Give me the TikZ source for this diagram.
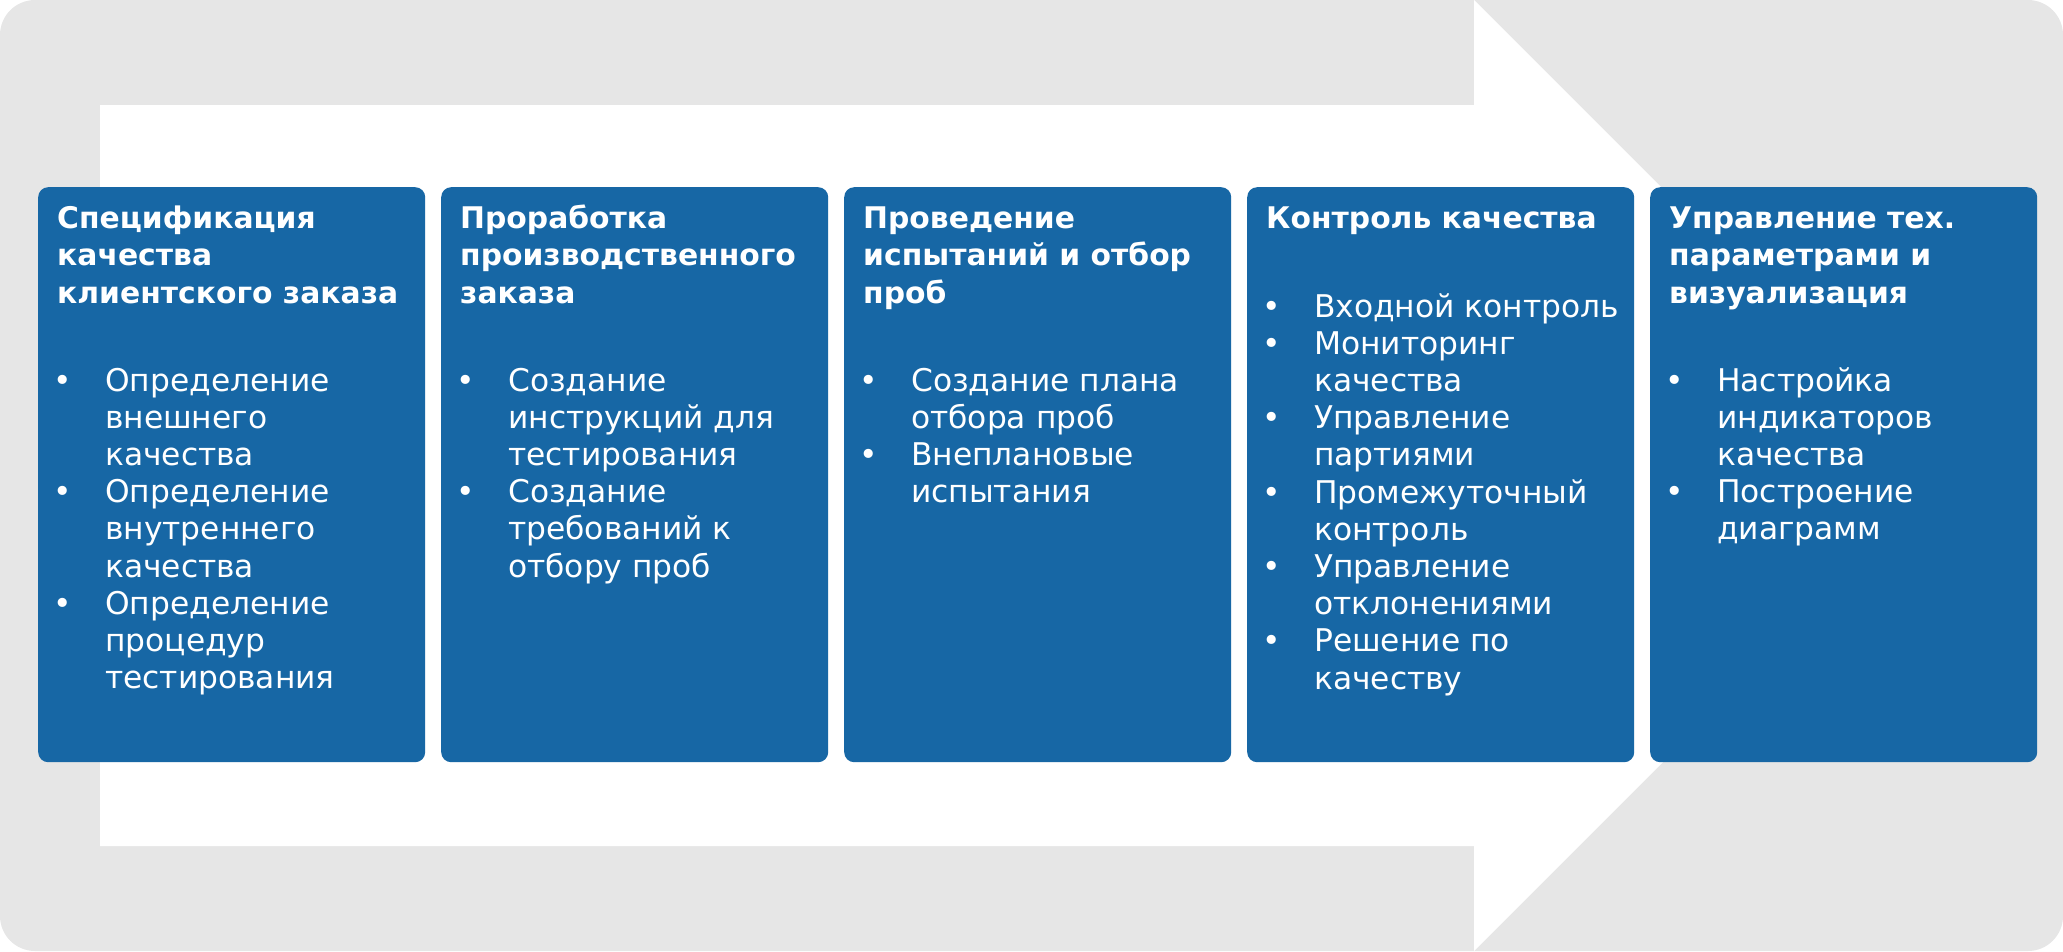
\documentclass[tikz,border=0pt]{standalone}
\usepackage{fontspec}
\setmainfont{DejaVu Sans}
\definecolor{bggray}{HTML}{E6E6E6}
\definecolor{qblue}{HTML}{1767A5}
\newcommand\qtitle[1]{\parbox[t]{375pt}{\fontsize{29.8}{37.5}\selectfont\bfseries\raggedright #1}}
\newcommand\qlist[1]{\parbox[t]{375pt}{\fontsize{31.3}{37.2}\selectfont\raggedright\leftskip=52pt\parindent=0pt\parskip=0pt #1}}
\newcommand\qitem{\par\noindent\llap{\makebox[52pt][l]{•}}}
\tikzset{
  stagebox/.style={fill=qblue, draw=none, rounded corners=10pt, minimum width=387pt, minimum height=575pt, inner sep=0pt, anchor=north west},
  txt/.style={text=white, inner sep=0pt, anchor=base west}
}
\begin{document}
\begin{tikzpicture}[x=1pt,y=-1pt]
\useasboundingbox (0,0) rectangle (2063,951);
\fill[bggray, rounded corners=35pt] (0,0) rectangle (2063,951);
\fill[white] (100,105) -- (1474,105) -- (1474,0) -- (1949.5,475.5) -- (1474,951) -- (1474,846) -- (100,846) -- cycle;
\node[stagebox] (box1) at (38,187) {};
\node[stagebox] (box2) at (441,187) {};
\node[stagebox] (box3) at (844,187) {};
\node[stagebox] (box4) at (1247,187) {};
\node[stagebox] (box5) at (1650,187) {};
\node[txt] (t1) at (57,228) {\qtitle{Спецификация\\качества\\клиентского заказа}};
\node[txt] (t2) at (460,228) {\qtitle{Проработка\\производственного\\заказа}};
\node[txt] (t3) at (863,228) {\qtitle{Проведение\\испытаний и отбор\\проб}};
\node[txt] (t4) at (1266,228) {\qtitle{Контроль качества}};
\node[txt] (t5) at (1669,228) {\qtitle{Управление тех.\\параметрами и\\визуализация}};
\node[txt] (l1) at (53,391) {\qlist{\qitem Определение\\внешнего\\качества\qitem Определение\\внутреннего\\качества\qitem Определение\\процедур\\тестирования}};
\node[txt] (l2) at (456,391) {\qlist{\qitem Создание\\инструкций для\\тестирования\qitem Создание\\требований к\\отбору проб}};
\node[txt] (l3) at (859,391) {\qlist{\qitem Создание плана\\отбора проб\qitem Внеплановые\\испытания}};
\node[txt] (l4) at (1262,317) {\qlist{\qitem Входной контроль\qitem Мониторинг\\качества\qitem Управление\\партиями\qitem Промежуточный\\контроль\qitem Управление\\отклонениями\qitem Решение по\\качеству}};
\node[txt] (l5) at (1665,391) {\qlist{\qitem Настройка\\индикаторов\\качества\qitem Построение\\диаграмм}};
\end{tikzpicture}
\end{document}
